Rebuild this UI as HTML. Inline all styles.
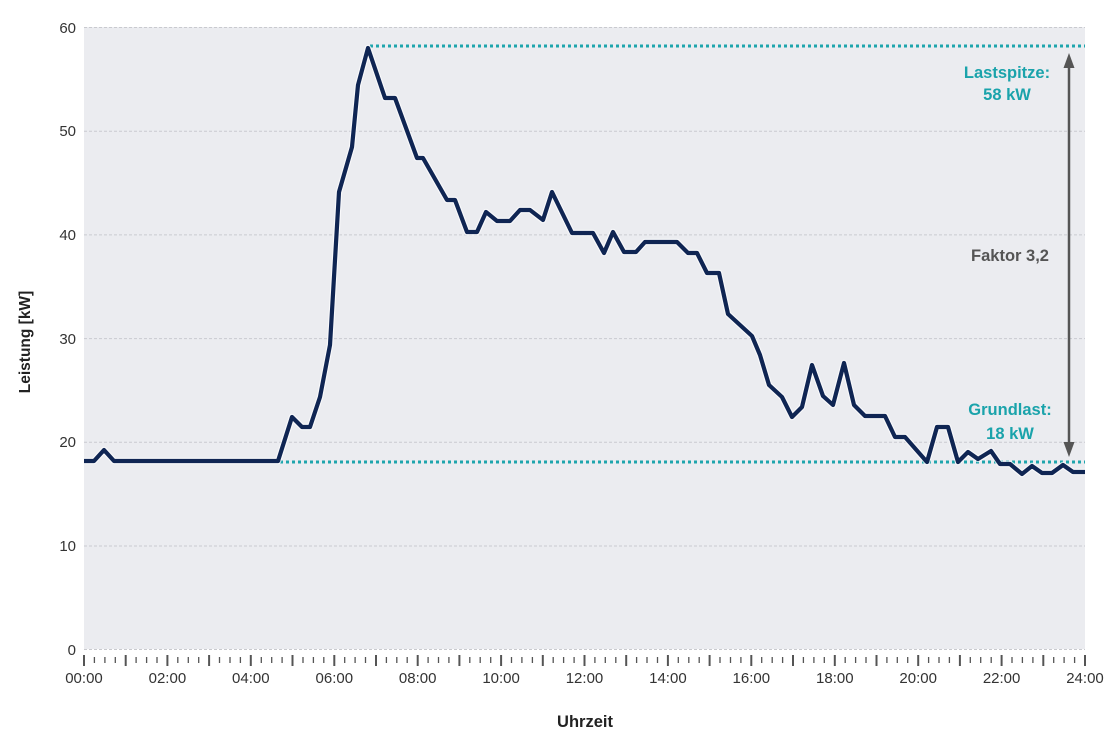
<!DOCTYPE html>
<html><head><meta charset="utf-8"><style>
html,body{margin:0;padding:0;background:#fff;}
svg{display:block;}
text{font-family:"Liberation Sans",sans-serif;}
</style></head><body>
<svg width="1115" height="747" viewBox="0 0 1115 747" xmlns="http://www.w3.org/2000/svg">
<rect x="84" y="27" width="1001" height="622" fill="#ebecf0"/>
<g stroke="#c9cacf" stroke-width="1" stroke-dasharray="3 2">
<line x1="84" y1="27.5" x2="1085" y2="27.5"/>
<line x1="84" y1="131.2" x2="1085" y2="131.2"/>
<line x1="84" y1="234.9" x2="1085" y2="234.9"/>
<line x1="84" y1="338.6" x2="1085" y2="338.6"/>
<line x1="84" y1="442.3" x2="1085" y2="442.3"/>
<line x1="84" y1="546" x2="1085" y2="546"/>
<line x1="84" y1="649.5" x2="1085" y2="649.5"/>
</g>
<g font-size="15" fill="#333" text-anchor="end">
<text x="76" y="33">60</text>
<text x="76" y="136">50</text>
<text x="76" y="240">40</text>
<text x="76" y="344">30</text>
<text x="76" y="447">20</text>
<text x="76" y="551">10</text>
<text x="76" y="655">0</text>
</g>
<g font-size="15" fill="#333" text-anchor="middle">
<text x="84" y="683">00:00</text>
<text x="167.4" y="683">02:00</text>
<text x="250.8" y="683">04:00</text>
<text x="334.3" y="683">06:00</text>
<text x="417.7" y="683">08:00</text>
<text x="501.1" y="683">10:00</text>
<text x="584.5" y="683">12:00</text>
<text x="667.9" y="683">14:00</text>
<text x="751.3" y="683">16:00</text>
<text x="834.8" y="683">18:00</text>
<text x="918.2" y="683">20:00</text>
<text x="1001.6" y="683">22:00</text>
<text x="1085" y="683">24:00</text>
</g>
<text x="585" y="727" font-size="16.5" font-weight="bold" fill="#222" text-anchor="middle">Uhrzeit</text>
<text transform="translate(30,342) rotate(-90)" font-size="15.5" font-weight="bold" fill="#222" text-anchor="middle">Leistung [kW]</text>
<g stroke="#1ea5ad" stroke-width="3" stroke-dasharray="3 3">
<line x1="280" y1="462" x2="1085" y2="462"/>
<line x1="370" y1="46" x2="1085" y2="46"/>
</g>
<polyline fill="none" stroke="#ffffff" stroke-opacity="0.7" stroke-width="6.5" stroke-linejoin="round" points="84,461 94,461 104,450 114,461 278,461 292,417 302,427 310,427 320,397 330,345 339,192 352,147 358,85 368,48 385,98 395,98 417,158 423,158 447,200 455,200 467,232 477,232 486,212 497,221 510,221 520,210 530,210 543,220 552,192 572,233 593,233 604,253 613,232 624,252 636,252 645,242 677,242 688,253 697,253 707,273 719,273 728,314 740,325 752,336 760,355 769,385 782,397 792,417 802,407 812,365 823,396 833,405 844,363 854,405 865,416 885,416 895,437 905,437 927,462 937,427 948,427 958,462 968,452 978,459 991,451 1000,464 1010,464 1022,474 1032,466 1042,473 1052,473 1063,465 1073,472 1085,472"/>
<polyline fill="none" stroke="#0f2553" stroke-width="4.2" stroke-linejoin="round" points="84,461 94,461 104,450 114,461 278,461 292,417 302,427 310,427 320,397 330,345 339,192 352,147 358,85 368,48 385,98 395,98 417,158 423,158 447,200 455,200 467,232 477,232 486,212 497,221 510,221 520,210 530,210 543,220 552,192 572,233 593,233 604,253 613,232 624,252 636,252 645,242 677,242 688,253 697,253 707,273 719,273 728,314 740,325 752,336 760,355 769,385 782,397 792,417 802,407 812,365 823,396 833,405 844,363 854,405 865,416 885,416 895,437 905,437 927,462 937,427 948,427 958,462 968,452 978,459 991,451 1000,464 1010,464 1022,474 1032,466 1042,473 1052,473 1063,465 1073,472 1085,472"/>
<line x1="1069" y1="66" x2="1069" y2="445" stroke="#555" stroke-width="2.5"/>
<polygon points="1069,53 1063.5,68 1074.5,68" fill="#555"/>
<polygon points="1069,457 1063.5,442 1074.5,442" fill="#555"/>
<g font-size="16.5" font-weight="bold" text-anchor="middle">
<text x="1007" y="78" fill="#1aa3ab">Lastspitze:</text>
<text x="1007" y="100" fill="#1aa3ab">58 kW</text>
<text x="1010" y="261" fill="#555">Faktor 3,2</text>
<text x="1010" y="415" fill="#1aa3ab">Grundlast:</text>
<text x="1010" y="439" fill="#1aa3ab">18 kW</text>
</g>
<g stroke="#555">
<line x1="84.0" y1="655" x2="84.0" y2="666" stroke-width="2"/><line x1="94.4" y1="657" x2="94.4" y2="663" stroke-width="1.3"/><line x1="104.9" y1="657" x2="104.9" y2="663" stroke-width="1.3"/><line x1="115.3" y1="657" x2="115.3" y2="663" stroke-width="1.3"/>
<line x1="125.7" y1="655" x2="125.7" y2="666" stroke-width="2"/><line x1="136.1" y1="657" x2="136.1" y2="663" stroke-width="1.3"/><line x1="146.6" y1="657" x2="146.6" y2="663" stroke-width="1.3"/><line x1="157.0" y1="657" x2="157.0" y2="663" stroke-width="1.3"/>
<line x1="167.4" y1="655" x2="167.4" y2="666" stroke-width="2"/><line x1="177.8" y1="657" x2="177.8" y2="663" stroke-width="1.3"/><line x1="188.3" y1="657" x2="188.3" y2="663" stroke-width="1.3"/><line x1="198.7" y1="657" x2="198.7" y2="663" stroke-width="1.3"/>
<line x1="209.1" y1="655" x2="209.1" y2="666" stroke-width="2"/><line x1="219.5" y1="657" x2="219.5" y2="663" stroke-width="1.3"/><line x1="230.0" y1="657" x2="230.0" y2="663" stroke-width="1.3"/><line x1="240.4" y1="657" x2="240.4" y2="663" stroke-width="1.3"/>
<line x1="250.8" y1="655" x2="250.8" y2="666" stroke-width="2"/><line x1="261.3" y1="657" x2="261.3" y2="663" stroke-width="1.3"/><line x1="271.7" y1="657" x2="271.7" y2="663" stroke-width="1.3"/><line x1="282.1" y1="657" x2="282.1" y2="663" stroke-width="1.3"/>
<line x1="292.5" y1="655" x2="292.5" y2="666" stroke-width="2"/><line x1="303.0" y1="657" x2="303.0" y2="663" stroke-width="1.3"/><line x1="313.4" y1="657" x2="313.4" y2="663" stroke-width="1.3"/><line x1="323.8" y1="657" x2="323.8" y2="663" stroke-width="1.3"/>
<line x1="334.3" y1="655" x2="334.3" y2="666" stroke-width="2"/><line x1="344.7" y1="657" x2="344.7" y2="663" stroke-width="1.3"/><line x1="355.1" y1="657" x2="355.1" y2="663" stroke-width="1.3"/><line x1="365.5" y1="657" x2="365.5" y2="663" stroke-width="1.3"/>
<line x1="376.0" y1="655" x2="376.0" y2="666" stroke-width="2"/><line x1="386.4" y1="657" x2="386.4" y2="663" stroke-width="1.3"/><line x1="396.8" y1="657" x2="396.8" y2="663" stroke-width="1.3"/><line x1="407.2" y1="657" x2="407.2" y2="663" stroke-width="1.3"/>
<line x1="417.7" y1="655" x2="417.7" y2="666" stroke-width="2"/><line x1="428.1" y1="657" x2="428.1" y2="663" stroke-width="1.3"/><line x1="438.5" y1="657" x2="438.5" y2="663" stroke-width="1.3"/><line x1="448.9" y1="657" x2="448.9" y2="663" stroke-width="1.3"/>
<line x1="459.4" y1="655" x2="459.4" y2="666" stroke-width="2"/><line x1="469.8" y1="657" x2="469.8" y2="663" stroke-width="1.3"/><line x1="480.2" y1="657" x2="480.2" y2="663" stroke-width="1.3"/><line x1="490.7" y1="657" x2="490.7" y2="663" stroke-width="1.3"/>
<line x1="501.1" y1="655" x2="501.1" y2="666" stroke-width="2"/><line x1="511.5" y1="657" x2="511.5" y2="663" stroke-width="1.3"/><line x1="521.9" y1="657" x2="521.9" y2="663" stroke-width="1.3"/><line x1="532.4" y1="657" x2="532.4" y2="663" stroke-width="1.3"/>
<line x1="542.8" y1="655" x2="542.8" y2="666" stroke-width="2"/><line x1="553.2" y1="657" x2="553.2" y2="663" stroke-width="1.3"/><line x1="563.6" y1="657" x2="563.6" y2="663" stroke-width="1.3"/><line x1="574.1" y1="657" x2="574.1" y2="663" stroke-width="1.3"/>
<line x1="584.5" y1="655" x2="584.5" y2="666" stroke-width="2"/><line x1="594.9" y1="657" x2="594.9" y2="663" stroke-width="1.3"/><line x1="605.3" y1="657" x2="605.3" y2="663" stroke-width="1.3"/><line x1="615.8" y1="657" x2="615.8" y2="663" stroke-width="1.3"/>
<line x1="626.2" y1="655" x2="626.2" y2="666" stroke-width="2"/><line x1="636.6" y1="657" x2="636.6" y2="663" stroke-width="1.3"/><line x1="647.0" y1="657" x2="647.0" y2="663" stroke-width="1.3"/><line x1="657.5" y1="657" x2="657.5" y2="663" stroke-width="1.3"/>
<line x1="667.9" y1="655" x2="667.9" y2="666" stroke-width="2"/><line x1="678.3" y1="657" x2="678.3" y2="663" stroke-width="1.3"/><line x1="688.8" y1="657" x2="688.8" y2="663" stroke-width="1.3"/><line x1="699.2" y1="657" x2="699.2" y2="663" stroke-width="1.3"/>
<line x1="709.6" y1="655" x2="709.6" y2="666" stroke-width="2"/><line x1="720.0" y1="657" x2="720.0" y2="663" stroke-width="1.3"/><line x1="730.5" y1="657" x2="730.5" y2="663" stroke-width="1.3"/><line x1="740.9" y1="657" x2="740.9" y2="663" stroke-width="1.3"/>
<line x1="751.3" y1="655" x2="751.3" y2="666" stroke-width="2"/><line x1="761.7" y1="657" x2="761.7" y2="663" stroke-width="1.3"/><line x1="772.2" y1="657" x2="772.2" y2="663" stroke-width="1.3"/><line x1="782.6" y1="657" x2="782.6" y2="663" stroke-width="1.3"/>
<line x1="793.0" y1="655" x2="793.0" y2="666" stroke-width="2"/><line x1="803.4" y1="657" x2="803.4" y2="663" stroke-width="1.3"/><line x1="813.9" y1="657" x2="813.9" y2="663" stroke-width="1.3"/><line x1="824.3" y1="657" x2="824.3" y2="663" stroke-width="1.3"/>
<line x1="834.8" y1="655" x2="834.8" y2="666" stroke-width="2"/><line x1="845.2" y1="657" x2="845.2" y2="663" stroke-width="1.3"/><line x1="855.6" y1="657" x2="855.6" y2="663" stroke-width="1.3"/><line x1="866.0" y1="657" x2="866.0" y2="663" stroke-width="1.3"/>
<line x1="876.5" y1="655" x2="876.5" y2="666" stroke-width="2"/><line x1="886.9" y1="657" x2="886.9" y2="663" stroke-width="1.3"/><line x1="897.3" y1="657" x2="897.3" y2="663" stroke-width="1.3"/><line x1="907.7" y1="657" x2="907.7" y2="663" stroke-width="1.3"/>
<line x1="918.2" y1="655" x2="918.2" y2="666" stroke-width="2"/><line x1="928.6" y1="657" x2="928.6" y2="663" stroke-width="1.3"/><line x1="939.0" y1="657" x2="939.0" y2="663" stroke-width="1.3"/><line x1="949.4" y1="657" x2="949.4" y2="663" stroke-width="1.3"/>
<line x1="959.9" y1="655" x2="959.9" y2="666" stroke-width="2"/><line x1="970.3" y1="657" x2="970.3" y2="663" stroke-width="1.3"/><line x1="980.7" y1="657" x2="980.7" y2="663" stroke-width="1.3"/><line x1="991.2" y1="657" x2="991.2" y2="663" stroke-width="1.3"/>
<line x1="1001.6" y1="655" x2="1001.6" y2="666" stroke-width="2"/><line x1="1012.0" y1="657" x2="1012.0" y2="663" stroke-width="1.3"/><line x1="1022.4" y1="657" x2="1022.4" y2="663" stroke-width="1.3"/><line x1="1032.9" y1="657" x2="1032.9" y2="663" stroke-width="1.3"/>
<line x1="1043.3" y1="655" x2="1043.3" y2="666" stroke-width="2"/><line x1="1053.7" y1="657" x2="1053.7" y2="663" stroke-width="1.3"/><line x1="1064.1" y1="657" x2="1064.1" y2="663" stroke-width="1.3"/><line x1="1074.6" y1="657" x2="1074.6" y2="663" stroke-width="1.3"/>
<line x1="1085.0" y1="655" x2="1085.0" y2="666" stroke-width="2"/>
</g>
</svg>
</body></html>
